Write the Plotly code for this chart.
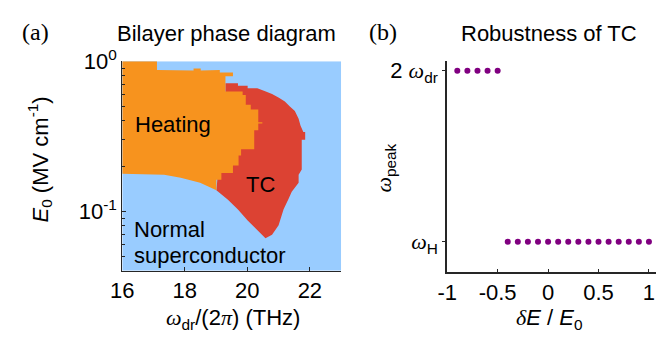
import numpy as np
import plotly.graph_objects as go

# ---------------- data: panel (a) phase diagram (boundaries in THz, MV/cm) -------------
normal_x = [16.0, 23.0, 23.0, 16.0]
normal_E = [0.04, 0.04, 1.0, 1.0]

tc_x = [19.30, 19.70, 19.70, 20.01, 20.01, 20.32, 20.57, 20.79, 21.01, 21.20, 21.36,
        21.52, 21.64, 21.70, 21.79, 21.85, 21.85, 21.74, 21.74, 21.64, 21.64, 21.52,
        21.42, 21.32, 21.16, 21.00, 20.79, 20.58, 20.32, 20.01, 19.70, 19.38, 19.01,
        19.30]
tc_E = [0.713, 0.713, 0.686, 0.686, 0.660, 0.660, 0.631, 0.604, 0.570, 0.538, 0.500,
        0.465, 0.413, 0.373, 0.337, 0.337, 0.300, 0.300, 0.190, 0.175, 0.155, 0.145,
        0.135, 0.121, 0.103, 0.0805, 0.0696, 0.0661, 0.0749, 0.0867, 0.1028, 0.119, 0.138,
        0.629]

heat_x = [16.00, 17.11, 17.11, 18.28, 18.28, 18.51, 18.51, 19.12, 19.12, 19.54, 19.54,
          19.30, 19.30, 19.85, 19.85, 19.95, 19.95, 20.11, 20.11, 20.35, 20.35, 20.48,
          20.48, 20.35, 20.35, 20.22, 20.22, 19.80, 19.80, 19.72, 19.72, 19.54, 19.54,
          19.17, 19.17, 19.01, 19.01, 18.91, 18.49, 17.87, 17.34, 16.00]
heat_E = [1.0, 1.0, 0.874, 0.867, 0.896, 0.896, 0.867, 0.874, 0.842, 0.842, 0.794,
          0.794, 0.629, 0.629, 0.596, 0.596, 0.512, 0.512, 0.476, 0.476, 0.392, 0.392,
          0.384, 0.384, 0.347, 0.347, 0.259, 0.259, 0.235, 0.235, 0.202, 0.202, 0.180,
          0.180, 0.162, 0.162, 0.138, 0.141, 0.155, 0.167, 0.175, 0.178]

# ---------------- data: panel (b) ----------------
upper_dE = [-0.9, -0.8, -0.7, -0.6, -0.5]
upper_level = [2, 2, 2, 2, 2]          # 2*omega_dr
lower_dE = [-0.4, -0.3, -0.2, -0.1, 0.0, 0.1, 0.2, 0.3, 0.4, 0.5, 0.6, 0.7, 0.8, 0.9, 1.0]
lower_level = [1] * len(lower_dE)      # omega_H

xa_ticks = [16, 18, 20, 22]
xb_ticks = [-1, -0.5, 0, 0.5, 1]
xb_ticktext = ["-1", "-0.5", "0", "0.5", "1"]

BLUE = "#99CCFF"
ORANGE = "#F7931E"
RED = "#DC4233"
PURPLE = "#800080"
AX = "#262626"
FONT = "Liberation Sans"
SERIF = "Liberation Serif"
FS = 22

def w(t="ω"):
    return f"<span style=\"font-family:'{SERIF}'\"><i>{t}</i></span>"

fig = go.Figure()
for xs, ys, col in [(normal_x, normal_E, BLUE), (tc_x, tc_E, RED), (heat_x, heat_E, ORANGE)]:
    fig.add_trace(go.Scatter(x=xs, y=ys, mode="lines", fill="toself", fillcolor=col,
                             line=dict(width=0, color=col), hoverinfo="skip",
                             showlegend=False, xaxis="x", yaxis="y"))

fig.add_trace(go.Scatter(x=upper_dE, y=upper_level, mode="markers",
                         marker=dict(size=6, color=PURPLE), showlegend=False,
                         xaxis="x2", yaxis="y2"))
fig.add_trace(go.Scatter(x=lower_dE, y=lower_level, mode="markers",
                         marker=dict(size=6, color=PURPLE), showlegend=False,
                         xaxis="x2", yaxis="y2"))

tickfont = dict(family=FONT, size=FS, color="#000")
fig.update_layout(
    width=656, height=344, margin=dict(l=0, r=0, t=0, b=0),
    paper_bgcolor="white", plot_bgcolor="white",
    font=dict(family=FONT, size=FS, color="#000"),
    xaxis=dict(domain=[0.1712, 0.5111], range=[16, 23], tickvals=xa_ticks,
               ticks="inside", ticklen=4, tickcolor=AX, showline=True, linecolor=AX,
               linewidth=1, showgrid=False, zeroline=False, tickfont=tickfont,
               anchor="y"),
    yaxis=dict(domain=[0.223, 0.862], type="log", range=[np.log10(0.04), 0],
               tickvals=[0.1, 1], ticktext=["10<sup>-1</sup>", "10<sup>0</sup>"],
               ticks="inside", ticklen=4, tickcolor=AX, showline=True, linecolor=AX,
               linewidth=1, showgrid=False, zeroline=False, tickfont=tickfont,
               minor=dict(ticks="inside", ticklen=2.5, tickcolor=AX, showgrid=False,
                          tickvals=[0.04, 0.05, 0.06, 0.07, 0.08, 0.09, 0.2, 0.3, 0.4,
                                    0.5, 0.6, 0.7, 0.8, 0.9]),
               anchor="x"),
    xaxis2=dict(domain=[0.6758, 1.0], range=[-1, 1.07], tickvals=xb_ticks,
                ticktext=xb_ticktext, ticks="inside", ticklen=3, tickcolor=AX,
                showline=True, linecolor=AX, linewidth=2, showgrid=False,
                zeroline=False, tickfont=tickfont, anchor="y2"),
    yaxis2=dict(domain=[0.220, 0.864], range=[0.824, 2.059], tickvals=[1, 2],
                ticktext=[w() + "<sub>H</sub>", "2 " + w() + "<sub>dr</sub>"],
                ticks="outside", ticklen=3, tickcolor=AX, showline=True, linecolor=AX,
                linewidth=2, showgrid=False, zeroline=False, tickfont=tickfont,
                anchor="x2"),
)

def ann(text, x, y, xref="paper", yref="paper", xanchor="center", yanchor="middle",
        angle=0, family=FONT, size=FS):
    fig.add_annotation(text=text, x=x, y=y, xref=xref, yref=yref, xanchor=xanchor,
                       yanchor=yanchor, textangle=angle, showarrow=False,
                       font=dict(family=family, size=size, color="#000"))

W, H = 656, 344
# titles and panel letters
ann("Bilayer phase diagram", 218 / W, 1 - 18 / H)
ann("Robustness of TC", 547 / W, 1 - 18 / H)
ann("(a)", 24 / W, 1 - 17 / H, family=SERIF, size=24)
ann("(b)", 378 / W, 1 - 17 / H, family=SERIF, size=24)
# axis titles
ann(w() + "<sub>dr</sub>/(2" + w("π") + ") (THz)", 225 / W, 1 - 318 / H)
ann("<i>E</i><sub>0</sub> (MV cm<sup>-1</sup>)", 28 / W, 1 - 150 / H, angle=-90)
ann(w("δ") + "<i>E</i> / <i>E</i><sub>0</sub>", 548 / W, 1 - 318 / H)
ann(w() + "<sub>peak</sub>", 380 / W, 1 - 160 / H, angle=-90)
# region labels (data coords; log axis uses log10)
ann("Heating", 16.345, np.log10(0.379), "x", "y", xanchor="left")
ann("TC", 20.43, np.log10(0.150), "x", "y")
ann("Normal", 16.30, np.log10(0.076), "x", "y", xanchor="left")
ann("superconductor", 16.30, np.log10(0.051), "x", "y", xanchor="left")

fig.write_html("out.html")
